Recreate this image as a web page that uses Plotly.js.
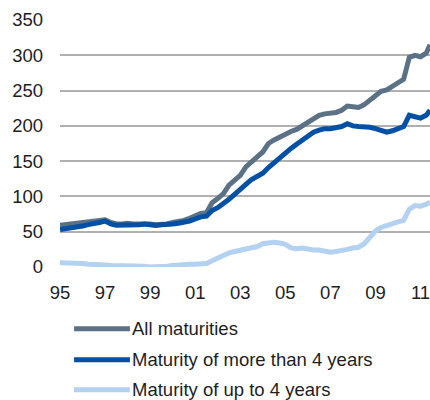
<!DOCTYPE html>
<html>
<head>
<meta charset="utf-8">
<script src="https://cdn.plot.ly/plotly-3.0.1.min.js"></script>
<style>
  html, body { margin: 0; padding: 0; background: #ffffff; }
  #chart { width: 430px; height: 400px; }
</style>
</head>
<body>
<div id="chart"></div>
<script>
// Time points (decimal years), quarterly from 1995 to mid-2011
const years = [
  1995.00, 1995.25, 1995.50, 1995.75, 1996.00, 1996.25, 1996.50, 1996.75,
  1997.00, 1997.25, 1997.50, 1997.75, 1998.00, 1998.25, 1998.50, 1998.75,
  1999.00, 1999.25, 1999.50, 1999.75, 2000.00, 2000.25, 2000.50, 2000.75,
  2001.00, 2001.25, 2001.50, 2001.75, 2002.00, 2002.25, 2002.50, 2002.75,
  2003.00, 2003.25, 2003.50, 2003.75, 2004.00, 2004.25, 2004.50, 2004.75,
  2005.00, 2005.25, 2005.50, 2005.75, 2006.00, 2006.25, 2006.50, 2006.75,
  2007.00, 2007.25, 2007.50, 2007.75, 2008.00, 2008.25, 2008.50, 2008.75,
  2009.00, 2009.25, 2009.50, 2009.75, 2010.00, 2010.25, 2010.50, 2010.75,
  2011.00, 2011.25, 2011.42
];

const allMaturities = [
  59, 60, 61, 62, 63, 64, 65, 66,
  67, 63, 61, 61, 62, 61, 61, 62,
  61, 60, 60, 61, 63, 64, 66, 69,
  72, 76, 77, 91, 97, 104, 116, 124,
  130, 142, 150, 156, 163, 175, 180, 184,
  189, 192, 195, 200, 207, 212, 215, 217,
  218, 219, 222, 228, 227, 226, 230, 236,
  242, 249, 251, 256, 260, 266, 297, 300,
  298, 303, 315
];

const moreThan4 = [
  53, 54, 55, 57, 58, 60, 61, 63,
  65, 61, 59, 59, 60, 60, 60, 61,
  60, 59, 60, 60, 61, 62, 63, 65,
  68, 71, 72, 80, 84, 89, 96, 103,
  109, 117, 124, 128, 133, 141, 148, 156,
  162, 168, 174, 180, 187, 191, 194, 196,
  196, 198, 199, 203, 200, 199, 199, 198,
  196, 194, 191, 193, 196, 199, 215, 213,
  211, 215, 222
];

const upTo4 = [
  6, 6, 6, 5, 5, 4, 4, 3,
  3, 2, 2, 2, 2, 1, 1, 1,
  0, 0, 0, 1, 2, 3, 3, 4,
  4, 4, 5, 9, 13, 16, 20, 22,
  24, 26, 27, 29, 33, 34, 35, 34,
  32, 27, 26, 27, 25, 24, 24, 22,
  21, 22, 23, 25, 27, 28, 33, 42,
  51, 56, 59, 62, 64, 66, 82, 87,
  86, 89, 92
];

const seriesNames = ["All maturities", "Maturity of more than 4 years", "Maturity of up to 4 years"];
const seriesColors = ["#5b7186", "#0050a5", "#b3d1f0"];

const xTickVals = [1995, 1997, 1999, 2001, 2003, 2005, 2007, 2009, 2011];
const xTickText = ["95", "97", "99", "01", "03", "05", "07", "09", "11"];
const yTickVals = [0, 50, 100, 150, 200, 250, 300, 350];

const FONT = "'Liberation Sans', Arial, sans-serif";
const TXT = "#1e1e1e";
const FS = 18.5;

const seriesData = [allMaturities, moreThan4, upTo4];
const traces = seriesData.map((ys, i) => ({
  type: "scatter",
  mode: "lines",
  x: years,
  y: ys,
  name: seriesNames[i],
  line: { color: seriesColors[i], width: 5 },
  showlegend: false,
  hoverinfo: "skip"
}));

// Custom legend (long line samples as in the reference)
const legendY = [-0.25, -0.375, -0.497];
const shapes = seriesNames.map((n, i) => ({
  type: "line", xref: "paper", yref: "paper",
  x0: 0.038, x1: 0.189, y0: legendY[i], y1: legendY[i],
  line: { color: seriesColors[i], width: 5 }
}));
const annotations = seriesNames.map((n, i) => ({
  text: n, xref: "paper", yref: "paper",
  x: 0.19, y: legendY[i], xanchor: "left", yanchor: "middle",
  showarrow: false, font: { family: FONT, size: FS, color: TXT }
}));

const layout = {
  width: 430, height: 400,
  margin: { l: 60, r: 0, t: 20, b: 133, pad: 0 },
  paper_bgcolor: "#ffffff",
  plot_bgcolor: "#ffffff",
  font: { family: FONT, size: FS, color: TXT },
  showlegend: false,
  xaxis: {
    type: "linear",
    range: [1995, 2011.42],
    tickvals: xTickVals,
    ticktext: xTickText,
    showgrid: false,
    zeroline: false,
    showline: false,
    ticks: "",
    ticklabelstandoff: 12,
    ticklabeloverflow: "allow",
    tickfont: { family: FONT, size: FS, color: TXT },
    fixedrange: true
  },
  yaxis: {
    range: [0, 350],
    tickvals: yTickVals,
    showgrid: true,
    gridcolor: "#b0b0b0",
    gridwidth: 2,
    zeroline: false,
    showline: false,
    ticks: "",
    ticklabelstandoff: 16,
    tickfont: { family: FONT, size: FS, color: TXT },
    fixedrange: true
  },
  shapes: shapes,
  annotations: annotations
};

Plotly.newPlot("chart", traces, layout, { displayModeBar: false, staticPlot: true });
</script>
</body>
</html>
